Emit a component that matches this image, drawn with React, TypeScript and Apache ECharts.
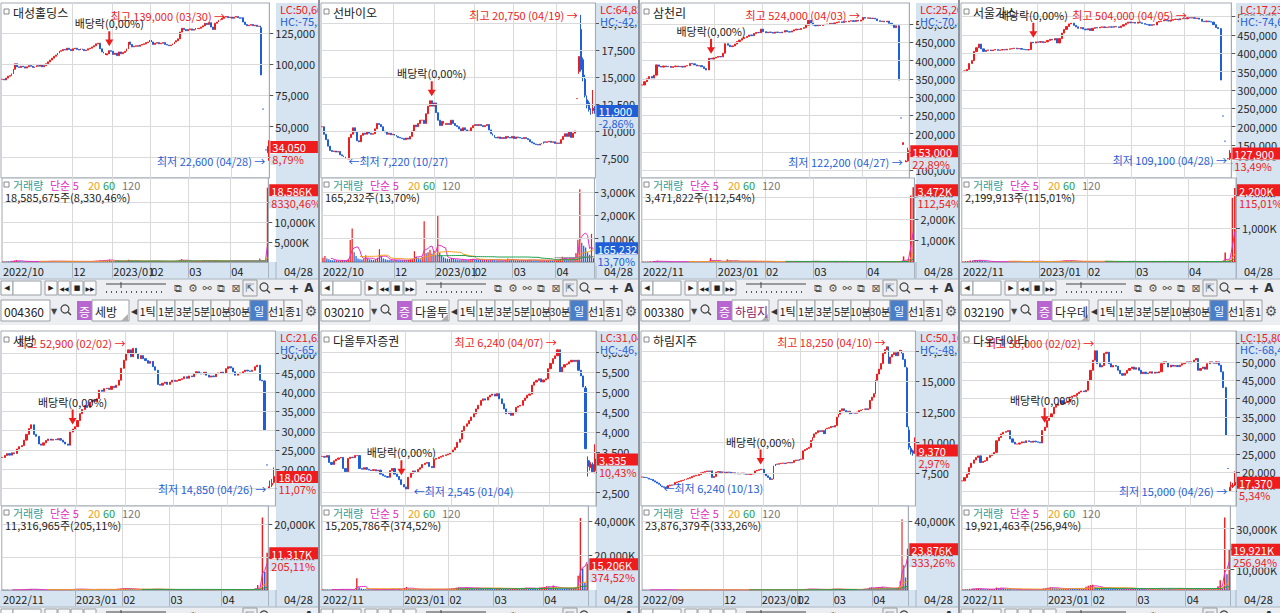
import React, { useEffect, useRef } from "react";
import * as echarts from "echarts";

const FONT = '"Noto Sans CJK KR", "Noto Sans", sans-serif';
const SYM = '"DejaVu Sans", sans-serif';
const UP = "#ee1c1c";
const DN = "#1f5ed6";
const BAND = "#d6e3f0";
const GRIDC = "#dadada";
const BORDER = "#a3abb5";
const DARK = "#262626";

const PW = 275;
const PL = 1;
const PT = 34;
const PH = 175;
const VT = 209;
const VH = 84;

// ---------------- DATA ----------------
// 1 대성홀딩스
const p1Close = [
  88000, 87500, 89000, 90500, 91000, 92500, 96000, 100500, 98000, 97500,
  98500, 98000, 97000, 98000, 99000, 98500, 97500, 98000, 99000, 98500,
  99500, 98000, 99000, 100500, 102000, 103500, 105000, 106500, 107500, 109000,
  110500, 111000, 112000, 111500, 113000, 112000, 111000, 112500, 113000, 112000,
  111500, 112500, 112000, 111000, 111500, 112500, 113000, 114000, 115000, 116500,
  117000, 112500, 110000, 109000, 107500, 108500, 111000, 110500, 108000, 109000,
  107000, 110000, 108500, 109500, 110500, 112500, 118000, 116000, 114000, 114500,
  115000, 114500, 115500, 116000, 116500, 117500, 118000, 119500, 118000, 116000,
  117000, 117500, 116500, 117000, 117500, 116000, 115500, 115000, 115500, 116500,
  118000, 119000, 120500, 126000, 129000, 128000, 127000, 128000, 128500, 127500,
  128000, 129000, 128500, 129000, 130000, 131000, 133000, 132000, 133500, 130000,
  128000, 133000, 134000, 135500, 136000, 137000, 138000, 138500, 137500, 138000,
  137000, 138000, 138500, 137500, 137000, 137500, 134000, 132000, 131000, 131500,
  132000, 131000, 131500, 130500, 130700,
];
const p1Tail = [
  [129500, 91500, 91500, 131000],
  [64050, 64050, 64050, 64050],
  [44850, 44850, 44850, 44850],
  [31300, 31300, 31300, 31300],
  [29000, 34050, 22600, 39000],
];
const p1VolHist = [
  160, 140, 210, 180, 150, 170, 320, 480, 260, 190,
  150, 130, 140, 160, 120, 130, 110, 140, 150, 120,
  130, 110, 140, 180, 210, 190, 230, 200, 170, 220,
  190, 210, 160, 150, 140, 170, 130, 150, 140, 120,
  130, 150, 140, 120, 110, 130, 160, 190, 240, 310,
  260, 420, 380, 350, 520, 480, 610, 390, 260, 220,
  180, 240, 200, 170, 190, 230, 560, 380, 250, 200,
  180, 160, 170, 190, 200, 180, 220, 240, 280, 230,
  190, 170, 180, 160, 150, 170, 160, 140, 150, 160,
  210, 250, 270, 560, 720, 380, 290, 240, 210, 200,
  190, 220, 210, 240, 260, 310, 380, 290, 260, 300,
  330, 280, 240, 260, 230, 250, 270, 240, 220, 230,
  210, 200, 220, 230, 190, 210, 260, 280, 240, 220,
  210, 200, 190, 210, 230,
];
const p1VolTail = [900, 160, 140, 223, 18586];
const p1Ticks = [25000, 50000, 75000, 100000, 125000];
const p1VolTicks = [5000, 10000, 15000];

// 2 선바이오
const p2Close = [
  10400, 9700, 9200, 8600, 8200, 8100, 8150, 8050, 8100, 7800,
  7700, 7600, 7500, 7400, 9400, 9700, 10300, 9900, 9100, 9000,
  9600, 9800, 9700, 9900, 9800, 9700, 9750, 10200, 10700, 10600,
  10400, 10000, 9900, 9700, 9800, 9650, 9700, 9600, 9500, 9400,
  9350, 9300, 9200, 9350, 9250, 9500, 10000, 10550, 10400, 10700,
  11000, 11000, 10700, 11600, 12300, 12800, 12300, 12600, 11700, 11000,
  10500, 10900, 10700, 10600, 10700, 10600, 11000, 10700, 10500, 10400,
  10200, 10000, 10300, 10100, 10000, 10000, 10300, 10500, 10600, 10500,
  10600, 10500, 10400, 10500, 10600, 10100, 9750, 9600, 9400, 9350,
  9450, 9300, 9400, 9300, 9500, 9400, 9350, 9500, 9300, 9450,
  9400, 9350, 9300, 9400, 9300, 9200, 9000, 8900, 8800, 8750,
  8700, 8800, 8850, 9000, 8950, 9000, 9050, 8950, 9000, 8850,
  8900, 8850, 9200, 9500, 9750, 9500, 9900, 9400, 9800, 10000,
];
const p2Tail = [
  [13000, 13000, 13000, 13000],
  [15500, 16900, 15300, 16900],
  [19400, 15700, 15500, 20750],
  [16600, 15000, 14600, 16800],
  [14800, 13300, 13100, 15200],
  [12900, 12400, 12100, 13300],
  [12600, 12000, 11800, 12800],
  [11900, 11700, 11500, 12100],
  [11800, 12250, 11600, 13800],
  [12100, 11900, 11600, 12300],
];
const p2VolHist = [
  180, 260, 150, 120, 90, 80, 70, 75, 60, 65,
  70, 60, 80, 120, 940, 1440, 420, 260, 150, 120,
  110, 140, 290, 160, 120, 100, 90, 110, 180, 550,
  260, 150, 120, 100, 90, 85, 80, 95, 90, 80,
  75, 70, 85, 80, 90, 110, 140, 460, 220, 180,
  150, 216, 1745, 380, 420, 520, 360, 480, 300, 1990,
  400, 280, 200, 160, 140, 130, 170, 150, 120, 110,
  100, 95, 110, 90, 85, 100, 120, 140, 110, 100,
  95, 90, 100, 85, 90, 80, 120, 110, 95, 80,
  85, 75, 70, 80, 90, 150, 110, 85, 95, 80,
  75, 70, 80, 75, 70, 85, 100, 90, 80, 75,
  70, 65, 75, 80, 70, 75, 85, 70, 65, 70,
  75, 80, 140, 220, 180, 160, 120, 180, 150, 170,
];
const p2VolTail = [390, 950, 3117, 820, 700, 620, 420, 310, 1206, 165];
const p2Ticks = [7500, 10000, 12500, 15000, 17500, 20000];
const p2VolTicks = [1000, 2000, 3000];

// 3 삼천리
const p3Close = [
  333000, 342000, 350000, 356000, 352000, 360000, 388000, 384000, 382000, 385000,
  383000, 384000, 381000, 383000, 385000, 383000, 384000, 382000, 385000, 386000,
  392000, 391000, 388000, 385000, 386000, 383000, 378000, 374000, 406000, 404000,
  407000, 409000, 411000, 410000, 420000, 446000, 442000, 438000, 440000, 445000,
  452000, 456000, 460000, 463000, 466000, 470000, 468000, 474000, 477000, 476000,
  486000, 479000, 476000, 478000, 477000, 475000, 478000, 477000, 476000, 478000,
  482000, 479000, 478000, 481000, 484000, 486000, 485000, 488000, 490000, 497000,
  510000, 503000, 497000, 495000, 497000, 496000, 498000, 499000, 500000, 502000,
  501000, 503000, 505000, 506000, 504000, 507000, 506000, 508000, 509000, 507000,
  510000, 508000, 511000, 518000, 516000, 517000, 515000, 516000, 514000, 509000,
  507000, 508000, 506000, 508000, 502000, 498000, 490000, 495000,
];
const p3Tail = [
  [495000, 346500, 346500, 497000],
  [242600, 242600, 242600, 242600],
  [169900, 174500, 169900, 176000],
  [122200, 124500, 122200, 127000],
  [125000, 153000, 123000, 161000],
];
const p3VolHist = [
  22, 18, 25, 30, 20, 35, 60, 28, 18, 15,
  14, 12, 15, 13, 16, 12, 11, 14, 13, 15,
  30, 22, 16, 14, 12, 18, 25, 40, 180, 60,
  30, 25, 22, 20, 45, 120, 70, 35, 30, 28,
  25, 30, 28, 26, 24, 22, 20, 25, 30, 40,
  22, 18, 16, 15, 14, 16, 15, 14, 13, 15,
  14, 16, 15, 14, 15, 16, 18, 15, 20, 30,
  45, 28, 20, 18, 16, 15, 14, 16, 15, 14,
  13, 15, 16, 14, 15, 13, 14, 16, 15, 14,
  16, 18, 20, 30, 25, 20, 18, 16, 15, 14,
  16, 15, 14, 18, 22, 25, 35, 28,
];
const p3VolTail = [260, 45, 130, 3085, 3472];
const p3Ticks = [100000, 150000, 200000, 250000, 300000, 350000, 400000, 450000, 500000];
const p3VolTicks = [1000, 2000, 3000];

// 4 서울가스
const p4Close = [
  350000, 352000, 356000, 372000, 380000, 405000, 415000, 425000, 412000, 405000,
  408000, 409000, 407000, 409000, 410000, 408000, 409000, 410000, 409000, 411000,
  412000, 413000, 414000, 412000, 413000, 411000, 410000, 409000, 410000, 430000,
  428000, 431000, 430000, 432000, 429000, 431000, 435000, 438000, 436000, 440000,
  428000, 440000, 455000, 465000, 473000, 480000, 482000, 476000, 472000, 468000,
  470000, 466000, 464000, 467000, 462000, 468000, 470000, 469000, 471000, 472000,
  470000, 471000, 472000, 471000, 473000, 472000, 470000, 474000, 478000, 482000,
  485000, 483000, 484000, 482000, 485000, 483000, 481000, 479000, 478000, 476000,
  478000, 477000, 485000, 487000, 488000, 490000, 489000, 488000, 490000, 492000,
  493000, 491000, 494000, 495000, 494000, 497000, 496000, 497000, 495000, 496000,
  493000, 487000, 486000, 488000, 486000, 485000, 478000, 470000, 467000,
];
const p4Tail = [
  [467000, 327000, 327000, 469000],
  [228900, 228900, 228900, 228900],
  [160300, 160300, 160300, 160300],
  [112200, 112700, 112200, 114000],
  [113500, 127900, 109100, 136000],
];
const p4VolHist = [
  18, 25, 30, 45, 40, 60, 50, 55, 35, 25,
  15, 12, 10, 9, 11, 10, 8, 9, 10, 12,
  14, 15, 18, 13, 12, 11, 10, 12, 14, 40,
  25, 15, 13, 14, 12, 11, 18, 22, 16, 20,
  25, 30, 45, 50, 40, 35, 22, 18, 16, 14,
  13, 12, 15, 14, 12, 11, 10, 12, 11, 10,
  9, 10, 11, 10, 9, 12, 11, 18, 20, 22,
  16, 14, 12, 11, 10, 12, 11, 14, 13, 12,
  11, 10, 15, 18, 14, 12, 11, 10, 12, 11,
  10, 12, 14, 13, 15, 18, 16, 13, 12, 11,
  12, 14, 13, 11, 12, 14, 18, 25, 30,
];
const p4VolTail = [280, 35, 60, 1913, 2200];
const p4Ticks = [100000, 150000, 200000, 250000, 300000, 350000, 400000, 450000, 500000];
const p4VolTicks = [1000, 2000];

// 5 세방
const p5Close = [
  23000, 23500, 24000, 23600, 24200, 24000, 25200, 25800, 26100, 27500,
  29000, 30500, 31500, 29000, 28500, 26500, 26200, 26800, 27400, 27800,
  27500, 27700, 27600, 27900, 27500, 27000, 26500, 26200, 29600, 30400,
  31000, 32600, 34400, 35500, 36500, 36000, 37400, 38000, 37600, 38300,
  40500, 40200, 40900, 41000, 40700, 41500, 41200, 41800, 43100, 46200,
  48300, 50000, 51000, 49200, 51400, 50000, 48700, 49500, 48700, 48200,
  47500, 48000, 46600, 45700, 42000, 41800, 42300, 42600, 42000, 42600,
  43100, 42800, 43000, 43300, 43500, 44000, 43600, 44200, 44000, 44800,
  45300, 45000, 44700, 45200, 44400, 43900, 44200, 44000, 44800, 45000,
  45200, 44900, 46100, 46600, 46300, 45300, 44400, 44800, 45000, 45300,
  45700, 45500, 45400, 45700, 46600, 47000, 43100, 42900,
];
const p5Tail = [
  [42900, 30050, 30050, 43000],
  [21050, 21050, 21050, 21050],
  [14850, 15400, 14850, 17000],
  [15800, 16260, 15300, 17400],
  [16500, 18060, 16200, 20400],
];
const p5VolHist = [
  60, 45, 40, 35, 50, 42, 80, 95, 110, 160,
  240, 320, 280, 150, 120, 90, 70, 60, 55, 50,
  45, 50, 42, 40, 48, 55, 60, 110, 220, 260,
  240, 300, 280, 260, 220, 180, 160, 150, 140, 170,
  230, 190, 150, 140, 120, 160, 140, 150, 240, 380,
  420, 520, 600, 380, 340, 260, 220, 180, 160, 150,
  140, 130, 230, 190, 320, 210, 150, 120, 100, 95,
  90, 85, 80, 95, 100, 90, 85, 80, 75, 90,
  95, 100, 90, 85, 80, 75, 70, 80, 85, 90,
  85, 110, 130, 120, 100, 90, 85, 80, 75, 80,
  85, 90, 80, 110, 130, 140, 260, 420,
];
const p5VolTail = [1500, 330, 22000, 5517, 11317];
const p5Ticks = [15000, 20000, 25000, 30000, 35000, 40000, 45000, 50000];
const p5VolTicks = [10000, 20000];

// 6 다올투자증권
const p6Close = [
  3400, 3380, 3420, 3250, 3200, 3290, 3330, 3360, 3375, 3100,
  3020, 3350, 3380, 3370, 3420, 3420, 3100, 3080, 3120, 3080,
  3060, 3050, 3070, 3040, 3060, 2960, 2920, 2900, 2880, 3050,
  3100, 2960, 2900, 2820, 2700, 2640, 2590, 2880, 2980, 3040,
  3020, 3080, 3120, 3200, 3230, 3250, 3150, 3120, 3330, 3350,
  3380, 3400, 3420, 3440, 3460, 3500, 3560, 3620, 3750, 3830,
  4040, 4150, 4210, 4290, 4380, 4460, 4580, 4670, 4790, 4830,
  4800, 4875, 4920, 4950, 4900, 4960, 4830, 4710, 4580, 4460,
  4500, 4420, 4480, 4620, 4650, 4670, 4790, 4850, 4920, 4950,
  5170, 5250, 5290, 5330, 5250, 5300, 5330, 5580, 5710, 5830,
  5900, 6050, 5500, 5620, 5680, 5700, 5750, 5790, 5760, 5790,
  5540, 5400, 5125,
];
const p6Tail = [
  [5100, 3590, 3590, 5150],
  [3300, 3150, 2900, 3400],
  [3120, 3250, 3050, 3300],
  [3200, 3020, 3000, 3250],
  [3050, 3335, 2980, 3700],
];
const p6VolHist = [
  420, 350, 300, 280, 260, 300, 320, 280, 520, 380,
  300, 350, 280, 260, 400, 6800, 1600, 900, 600, 450,
  380, 320, 300, 280, 260, 300, 280, 260, 250, 480,
  520, 460, 380, 420, 600, 720, 1100, 1800, 900, 650,
  520, 460, 420, 380, 400, 360, 340, 380, 420, 460,
  400, 380, 360, 420, 480, 560, 700, 900, 1100, 1300,
  1600, 1400, 1200, 1300, 1500, 1200, 1100, 1000, 1300, 1200,
  900, 800, 1100, 1000, 900, 800, 760, 900, 1100, 800,
  700, 650, 600, 680, 720, 800, 900, 1000, 1100, 900,
  1300, 1200, 1000, 900, 850, 800, 1400, 1600, 1800, 2200,
  2000, 1500, 2600, 1400, 1000, 900, 850, 800, 760, 700,
  900, 1200, 1600,
];
const p6VolTail = [8200, 41700, 12500, 4060, 15206];
const p6Ticks = [2500, 3000, 3500, 4000, 4500, 5000, 5500, 6000];
const p6VolTicks = [20000, 40000];

// 7 하림지주
const p7Close = [
  7150, 7120,
  7100, 7050, 6980, 6950, 6840, 6750, 6650, 6560, 6420, 6350,
  6300, 6250, 6450, 6500, 6480, 6520, 6700, 6750, 6800, 6850,
  6890, 6950, 7000, 7050, 7100, 7200, 7250, 7300, 7280, 7350,
  7500, 7550, 7600, 7650, 7600, 7660, 7110, 7200, 7550, 7600,
  7520, 7580, 7550, 7500, 7560, 7540, 7450, 7500, 7420, 7480,
  7400, 7450, 7480, 7400, 7380, 7420, 7350, 7400, 7420, 7650,
  7700, 7750, 7800, 7780, 7400, 7250, 7110, 6950, 7000, 8070,
  8210, 8200, 8250, 8280, 8300, 8250, 8320, 8350, 8300, 8350,
  8500, 8550, 8520, 8600, 8620, 9300, 9400, 9500, 9590, 10140,
  10400, 10690, 10800, 10950, 10880, 10960, 10700, 11100, 11150, 11200,
  11300, 11250, 11375, 12060, 12300, 12600, 12750, 12600, 12500, 12550,
  12340, 12400, 12450, 12380, 12480, 12600, 12650, 12700, 12750, 12680,
  12750, 13440, 13700, 13990, 15090, 15600, 16000, 16460, 17290, 17600,
  17840, 16460, 17000, 17200, 17350, 17100, 17450, 17560, 17300, 16800,
  16190,
];
const p7Tail = [
  [16100, 11270, 11270, 16190],
  [11000, 9600, 9400, 11300],
  [9500, 9200, 9000, 9700],
  [9300, 9100, 8900, 9400],
  [9150, 9370, 9050, 10400],
];
const p7VolHist = [
  110, 100,
  120, 90, 80, 85, 95, 110, 100, 90, 140, 160,
  150, 180, 130, 110, 90, 85, 100, 95, 90, 85,
  80, 90, 95, 100, 110, 120, 100, 130, 90, 85,
  110, 100, 95, 90, 85, 80, 150, 120, 110, 95,
  90, 85, 80, 75, 80, 85, 90, 80, 75, 70,
  75, 80, 70, 65, 70, 75, 80, 70, 65, 140,
  160, 180, 120, 110, 150, 130, 140, 120, 100, 380,
  260, 180, 150, 140, 120, 110, 130, 120, 110, 100,
  180, 160, 150, 170, 160, 420, 380, 320, 300, 520,
  680, 720, 480, 400, 360, 520, 380, 300, 280, 260,
  300, 280, 320, 600, 720, 650, 480, 420, 380, 350,
  320, 300, 280, 300, 280, 320, 300, 280, 300, 290,
  320, 680, 760, 900, 1400, 1600, 1300, 1100, 1500, 1800,
  1600, 1900, 1400, 1200, 1000, 900, 1100, 1000, 900, 1200,
  1600,
];
const p7VolTail = [5200, 41000, 14500, 7165, 23876];
const p7Ticks = [7500, 10000, 12500, 15000, 17500];
const p7VolTicks = [20000, 40000];

// 8 다우데이타
const p8Close = [
  17730, 18600, 19550, 21360, 22500, 23400, 24090, 24500, 22700, 23000,
  23200, 24100, 24600, 25000, 25450, 28600, 29500, 30450, 30900, 31100,
  31360, 29100, 28200, 27700, 27700, 28000, 28300, 28100, 28600, 28400,
  28200, 28500, 28300, 28200, 28000, 31360, 32270, 34100, 35000, 35900,
  37700, 38200, 38600, 39500, 38600, 39000, 39200, 40450, 40700, 40900,
  41400, 41800, 42100, 41900, 42300, 45000, 47700, 50450, 53000, 49500,
  48600, 49000, 52300, 52600, 49500, 48600, 49000, 48800, 47700, 46800,
  46360, 46900, 47700, 48200, 48600, 48000, 48400, 47700, 46800, 47200,
  46800, 47000, 47300, 46900, 47200, 47000, 47300, 49500, 50000, 49800,
  48600, 49100, 48800, 49000, 48700, 49100, 49500, 49800, 50000, 49700,
  50000, 50500, 50900, 47700, 48200, 48600, 48000, 49500, 50000, 49800,
  49600, 50000, 49100, 47300, 43000,
];
const p8Tail = [
  [43000, 30100, 30100, 43200],
  [21070, 21070, 21070, 21070],
  [15000, 16000, 15000, 17500],
  [16200, 16490, 15800, 17200],
  [16600, 17370, 16300, 20300],
];
const p8VolHist = [
  300, 420, 380, 560, 620, 580, 700, 900, 500, 380,
  350, 420, 460, 500, 480, 1200, 900, 1100, 800, 700,
  600, 450, 380, 320, 280, 260, 240, 220, 200, 210,
  200, 190, 220, 210, 200, 520, 760, 900, 1100, 1300,
  1200, 900, 800, 700, 600, 650, 700, 800, 760, 700,
  650, 600, 620, 580, 700, 1600, 2100, 2400, 2600, 1500,
  1200, 1000, 1400, 1200, 900, 800, 700, 650, 600, 580,
  560, 520, 500, 520, 480, 540, 900, 600, 520, 480,
  460, 440, 420, 400, 420, 440, 460, 700, 800, 600,
  520, 480, 460, 440, 420, 400, 480, 520, 560, 500,
  480, 620, 700, 560, 520, 480, 440, 460, 500, 480,
  460, 520, 700, 900, 1800,
];
const p8VolTail = [4800, 900, 35500, 7753, 19921];
const p8Ticks = [15000, 20000, 25000, 30000, 35000, 40000, 45000, 50000, 55000];
const p8VolTicks = [10000, 20000, 30000];

// ---------------- PANEL CONFIG ----------------
type Cfg = {
  title: string; code?: string; codeName?: string; nameColor?: string;
  close: number[]; tail: number[][]; volHist: number[]; volTail: number[];
  yMin: number; yMax: number; yTicks: number[]; vMax: number; vTicks: number[];
  hiDate: string; hiVal: number; hiText: string;
  loDate: string; loVal: number; loText: string; loPos: string;
  lc: string; hc: string; tag: string; pct: string;
  volTag: string; volPct: string; volLine: string;
};

const PANELS: Cfg[] = [
  { title: "대성홀딩스", close: p1Close, tail: p1Tail, volHist: p1VolHist, volTail: p1VolTail,
    yMin: 8700, yMax: 149300, yTicks: p1Ticks, vMax: 21000, vTicks: p1VolTicks,
    hiDate: "03/30", hiVal: 139000, hiText: "최고 139,000 (03/30) →",
    loDate: "04/28", loVal: 22600, loText: "최저 22,600 (04/28) →", loPos: "left",
    lc: "LC:50,66", hc: "HC:-75,5", tag: "34,050", pct: "8,79%",
    volTag: "18,586K", volPct: "8330,46%", volLine: "18,585,675주(8,330,46%)" },
  { title: "선바이오", close: p2Close, tail: p2Tail, volHist: p2VolHist, volTail: p2VolTail,
    yMin: 5650, yMax: 21850, yTicks: p2Ticks, vMax: 3600, vTicks: p2VolTicks,
    hiDate: "04/19", hiVal: 20750, hiText: "최고 20,750 (04/19) →",
    loDate: "10/27", loVal: 7220, loText: "←최저 7,220 (10/27)", loPos: "right",
    lc: "LC:64,82", hc: "HC:-42,6", tag: "11,900", pct: "-2,86%",
    volTag: "165,232", volPct: "13,70%", volLine: "165,232주(13,70%)" },
  { title: "삼천리", close: p3Close, tail: p3Tail, volHist: p3VolHist, volTail: p3VolTail,
    yMin: 78100, yMax: 557600, yTicks: p3Ticks, vMax: 3900, vTicks: p3VolTicks,
    hiDate: "04/03", hiVal: 524000, hiText: "최고 524,000 (04/03) →",
    loDate: "04/27", loVal: 122200, loText: "최저 122,200 (04/27) →", loPos: "left",
    lc: "LC:25,20", hc: "HC:-70,8", tag: "153,000", pct: "22,89%",
    volTag: "3,472K", volPct: "112,54%", volLine: "3,471,822주(112,54%)" },
  { title: "서울가스", close: p4Close, tail: p4Tail, volHist: p4VolHist, volTail: p4VolTail,
    yMin: 60000, yMax: 537000, yTicks: p4Ticks, vMax: 2500, vTicks: p4VolTicks,
    hiDate: "04/05", hiVal: 504000, hiText: "최고 504,000 (04/05) →",
    loDate: "04/28", loVal: 109100, loText: "최저 109,100 (04/28) →", loPos: "left",
    lc: "LC:17,23", hc: "HC:-74,6", tag: "127,900", pct: "13,49%",
    volTag: "2,200K", volPct: "115,01%", volLine: "2,199,913주(115,01%)" },
  { title: "세방", code: "004360", codeName: "세방", nameColor: "#222",
    close: p5Close, tail: p5Tail, volHist: p5VolHist, volTail: p5VolTail,
    yMin: 10365, yMax: 55900, yTicks: p5Ticks, vMax: 25500, vTicks: p5VolTicks,
    hiDate: "02/02", hiVal: 52900, hiText: "최고 52,900 (02/02) →",
    loDate: "04/26", loVal: 14850, loText: "최저 14,850 (04/26) →", loPos: "left",
    lc: "LC:21,62", hc: "HC:-65,8", tag: "18,060", pct: "11,07%",
    volTag: "11,317K", volPct: "205,11%", volLine: "11,316,965주(205,11%)" },
  { title: "다올투자증권", code: "030210", codeName: "다올투", nameColor: "#222",
    close: p6Close, tail: p6Tail, volHist: p6VolHist, volTail: p6VolTail,
    yMin: 2167, yMax: 6517, yTicks: p6Ticks, vMax: 48600, vTicks: p6VolTicks,
    hiDate: "04/07", hiVal: 6240, hiText: "최고 6,240 (04/07) →",
    loDate: "01/04", loVal: 2545, loText: "←최저 2,545 (01/04)", loPos: "right",
    lc: "LC:31,04", hc: "HC:-46,5", tag: "3,335", pct: "10,43%",
    volTag: "15,206K", volPct: "374,52%", volLine: "15,205,786주(374,52%)" },
  { title: "하림지주", code: "003380", codeName: "하림지", nameColor: "#8a1a6a",
    close: p7Close, tail: p7Tail, volHist: p7VolHist, volTail: p7VolTail,
    yMin: 4775, yMax: 19130, yTicks: p7Ticks, vMax: 48600, vTicks: p7VolTicks,
    hiDate: "04/10", hiVal: 18250, hiText: "최고 18,250 (04/10) →",
    loDate: "10/13", loVal: 6240, loText: "←최저 6,240 (10/13)", loPos: "right",
    lc: "LC:50,16", hc: "HC:-48,6", tag: "9,370", pct: "2,97%",
    volTag: "23,876K", volPct: "333,26%", volLine: "23,876,379주(333,26%)" },
  { title: "다우데이타", code: "032190", codeName: "다우데", nameColor: "#222",
    close: p8Close, tail: p8Tail, volHist: p8VolHist, volTail: p8VolTail,
    yMin: 10910, yMax: 58360, yTicks: p8Ticks, vMax: 41100, vTicks: p8VolTicks,
    hiDate: "02/02", hiVal: 55000, hiText: "최고 55,000 (02/02) →",
    loDate: "04/26", loVal: 15000, loText: "최저 15,000 (04/26) →", loPos: "left",
    lc: "LC:15,80", hc: "HC:-68,4", tag: "17,370", pct: "5,34%",
    volTag: "19,921K", volPct: "256,94%", volLine: "19,921,463주(256,94%)" },
];

// ---------------- HELPERS ----------------
const HOLIDAYS = ["2022-10-03", "2022-10-10", "2022-12-30", "2023-01-23", "2023-01-24", "2023-03-01"];
function tradingDays(n: number): string[] {
  const out: string[] = [];
  const d = new Date(Date.UTC(2023, 3, 28));
  while (out.length < n) {
    const dow = d.getUTCDay();
    const iso = d.toISOString().slice(0, 10);
    if (dow !== 0 && dow !== 6 && HOLIDAYS.indexOf(iso) < 0) out.unshift(iso);
    d.setUTCDate(d.getUTCDate() - 1);
  }
  return out;
}
function monthMarks(dates: string[]): Record<number, string> {
  const px = PW / dates.length;
  const res: Record<number, string> = {};
  let lastX = 0;
  let need = 44;
  dates.forEach((d, i) => {
    const y = d.slice(0, 4), m = d.slice(5, 7);
    if (i === 0) { res[0] = `${y}/${m}`; return; }
    if (m !== dates[i - 1].slice(5, 7)) {
      const t = m === "01" ? `${y}/${m}` : m;
      const x = i * px;
      if (x - lastX >= need) { res[i] = t; lastX = x; need = t.length * 5 + 2; }
    }
  });
  return res;
}
const fmt = (v: number) => v.toLocaleString("en-US");

function txt(x: number, y: number, text: string, o: any = {}) {
  const style: any = {
    text, fill: o.color || DARK,
    font: `${o.weight || "normal"} ${o.size || 11}px ${o.family || FONT}`,
    align: o.align || "left", verticalAlign: "middle",
    textAlign: o.align || "left", textVerticalAlign: "middle",
  };
  if (o.bg) { style.backgroundColor = o.bg; style.padding = o.pad || [0, 1]; }
  return { type: "text", x, y, z: o.z || 20, silent: true, style };
}
function rect(x: number, y: number, w: number, h: number, fill: string, stroke?: string | null, z = -5) {
  return { type: "rect", silent: true, z, shape: { x, y, width: w, height: h },
    style: { fill, stroke: stroke || undefined, lineWidth: stroke ? 1 : 0 } };
}
function line(x1: number, y1: number, x2: number, y2: number, stroke: string, w = 1, z = 6) {
  return { type: "line", silent: true, z, shape: { x1, y1, x2, y2 }, style: { stroke, lineWidth: w } };
}

function toolbarEls(y0: number) {
  const els: any[] = [rect(0, y0, 320, 22, "#eceef1", null, -6)];
  const b = (x: number, w: number, label: string, fs = 7) => {
    els.push(rect(x, y0 + 2, w, 14, "#fbfbfb", "#9aa0a6", 5));
    els.push(txt(x + w / 2, y0 + 9, label, { size: fs, align: "center", family: SYM, color: "#222" }));
  };
  b(1, 12, "◀");
  els.push(rect(13, y0 + 2, 28, 14, "#ffffff", "#9aa0a6", 5));
  b(45, 12, "▶"); b(58, 12, "◀◀", 6); b(71, 12, "■", 7); b(84, 12, "▶▶", 6);
  els.push(line(106, y0 + 5, 166, y0 + 5, "#444"));
  els.push(line(121, y0 + 3, 121, y0 + 9, "#444"));
  for (let k = 0; k < 12; k++) els.push(rect(106 + k * 5, y0 + 12, 1, 2, "#555", null, 5));
  const icons: [string, number][] = [["⧉", 178], ["⚙", 193], ["⚯", 207], ["⧉", 221], ["⊠", 236], ["⇱", 250]];
  icons.forEach(([s, x]) => els.push(txt(x, y0 + 9, s, { size: 11, align: "center", family: SYM, color: "#555" })));
  els.push(rect(243, y0 + 1, 14, 16, "rgba(0,0,0,0)", "#999", 5));
  els.push({ type: "circle", silent: true, z: 6, shape: { cx: 264, cy: y0 + 8, r: 4 }, style: { fill: "none", stroke: "#444", lineWidth: 1.2 } });
  els.push(line(267, y0 + 11, 270, y0 + 14, "#444", 1.5));
  els.push(txt(279, y0 + 9, "−", { size: 13, align: "center", family: SYM, weight: "bold", color: "#333" }));
  els.push(txt(294, y0 + 9, "+", { size: 13, align: "center", family: SYM, weight: "bold", color: "#333" }));
  els.push(txt(309, y0 + 9, "A", { size: 12, align: "center", family: SYM, weight: "bold", color: "#333" }));
  return els;
}

function codeRowEls(code: string, name: string, nameColor: string) {
  const els: any[] = [rect(0, 0, 320, 28, "#eceef1", null, -6)];
  els.push(rect(1, 3, 49, 21, "#fff", "#9aa0a6", 5));
  els.push(txt(4, 14, code, { size: 12, color: "#222" }));
  els.push(txt(54, 14, "▼", { size: 8, family: SYM, color: "#444", align: "center" }));
  els.push({ type: "circle", silent: true, z: 6, shape: { cx: 65, cy: 12, r: 4 }, style: { fill: "none", stroke: "#444", lineWidth: 1.2 } });
  els.push(line(68, 15, 71, 18, "#444", 1.5));
  els.push(rect(77, 4, 15, 19, "#b866cf", null, 5));
  els.push(txt(84.5, 14, "증", { size: 12, color: "#fff", align: "center" }));
  els.push(rect(92, 3, 37, 21, "#fff", "#9aa0a6", 5));
  els.push(txt(95, 14, name, { size: 12, color: nameColor }));
  els.push({ type: "polygon", silent: true, z: 6, shape: { points: [[128, 17], [128, 24], [121, 24]] }, style: { fill: "#b0b0b0" } });
  els.push(txt(134, 14, "◀", { size: 8, family: SYM, align: "center", color: "#333" }));
  const btns: [string, number, number][] = [["1틱", 138, 19], ["1분", 157, 18], ["3분", 175, 18], ["5분", 193, 18], ["10분", 211, 19], ["30분", 230, 20], ["일", 250, 18], ["선1", 268, 16], ["종1", 284, 18]];
  btns.forEach(([t, x, w]) => {
    const sel = t === "일";
    els.push(rect(x, 3, w, 21, sel ? "#4a7ec8" : "#f7f7f7", "#9aa0a6", 5));
    els.push(txt(x + w / 2, 14, t, { size: t.length > 2 ? 10 : 11, align: "center", color: sel ? "#fff" : "#222" }));
  });
  els.push(txt(311, 14, "⚙", { size: 14, family: SYM, align: "center", color: "#555" }));
  return els;
}

function buildOption(c: Cfg, bottom: boolean) {
  const ohlc = c.close
    .map((v, i) => { const o = i === 0 ? v : c.close[i - 1]; return [o, v, Math.min(o, v), Math.max(o, v)]; })
    .concat(c.tail);
  const n = ohlc.length;
  const dates = tradingDays(n);
  const marks = monthMarks(dates);
  const isLine = (i: number) => i > 0 && marks[i] !== undefined;
  const vol = c.volHist.concat(c.volTail);
  const volData = vol.map((v, i) => ({ value: v, itemStyle: { color: i > 0 && v < vol[i - 1] ? DN : UP } }));
  const ma = (k: number) => vol.map((_, i) => (i < k - 1 ? "-" : Math.round(vol.slice(i - k + 1, i + 1).reduce((a, b) => a + b, 0) / k)));
  const idxOf = (md: string) => { const key = md.replace("/", "-"); const j = dates.findIndex((d) => d.slice(5) === key); return j < 0 ? 0 : j; };
  const hiIdx = idxOf(c.hiDate), loIdx = idxOf(c.loDate), divIdx = idxOf("12/28");
  const divTop = ohlc[divIdx][3];
  const last = ohlc[n - 1];
  const pColor = last[1] >= ohlc[n - 2][1] ? UP : DN;
  const vColor = vol[n - 1] >= vol[n - 2] ? UP : DN;
  const vTagY = Math.min(Math.max(vol[n - 1], c.vMax * 0.17), c.vMax * 0.86);

  const tagLabel = (a: string, b: string, col: string) => ({
    show: true, position: "end", distance: 1, padding: [13, 0, 0, 0], opacity: 1,
    formatter: `{a|${a}}\n{b|${b}}`,
    rich: {
      a: { backgroundColor: col, color: "#fff", fontSize: 11, fontFamily: FONT, lineHeight: 13, padding: [1, 12, 0, 2], opacity: 1 },
      b: { color: col, fontSize: 11, fontFamily: FONT, lineHeight: 12, backgroundColor: BAND, padding: [0, 8, 0, 2], opacity: 1 },
    },
  });
  const mp = (coord: number[], text: string, pos: string, color: string, dist: number) => ({
    coord, symbol: "circle", symbolSize: 2, itemStyle: { color: "rgba(0,0,0,0)" },
    label: { show: true, position: pos, distance: dist, formatter: text, color, fontSize: 11, fontFamily: FONT },
  });
  const gridLines = (ticks: number[]) => ({
    silent: true, symbol: "none", animation: false, label: { show: false },
    lineStyle: { color: GRIDC, type: "solid", width: 1 },
    data: ticks.map((v) => ({ yAxis: v })),
  });
  const hiddenLine = { color: "rgba(0,0,0,0)", width: 0, opacity: 1 };

  const g: any[] = [];
  g.push(rect(0, 26, 320, 10, "#ffffff", null, -7));
  g.push(rect(PL + PW, PT, 46, VT + VH + 17 - PT, BAND, null, -5));
  g.push(rect(0, VT + VH, PL + PW, 17, BAND, null, -5));
  g.push(line(PL + PW, VT + VH, PL + PW, VT + VH + 17, "#aab4c0", 1, 1));
  g.push(line(0, VT + VH + 17, 320, VT + VH + 17, "#aab4c0", 1, 1));
  // title
  g.push(rect(4, 40, 5, 5, "#ffffff", "#888", 20));
  g.push(txt(13, 43, c.title, { size: 12, color: "#222" }));
  // LC / HC
  g.push(txt(279, 40, c.lc, { color: UP, bg: BAND }));
  g.push(txt(279, 52, c.hc, { color: DN, bg: BAND }));
  // volume legend
  g.push(rect(4, 213, 5, 5, "#ffffff", "#888", 20));
  g.push(txt(13, 216, "거래량", { color: "#2e9c9c" }));
  g.push(txt(50, 216, "단순 5", { color: "#e030c0" }));
  g.push(txt(88, 216, "20", { color: "#f0a020" }));
  g.push(txt(103, 216, "60", { color: "#1f9e4a" }));
  g.push(txt(122, 216, "120", { color: "#777" }));
  g.push(txt(5, 228, c.volLine, { color: "#222" }));
  g.push(txt(284, VT + VH + 9, "04/28", { color: "#222" }));
  toolbarEls(310).forEach((e) => g.push(e));
  if (bottom && c.code) codeRowEls(c.code, c.codeName || "", c.nameColor || "#222").forEach((e) => g.push(e));

  return {
    animation: false,
    textStyle: { fontFamily: FONT },
    grid: [
      { left: PL, top: PT, width: PW, height: PH, show: true, backgroundColor: "#fff", borderColor: BORDER, borderWidth: 1 },
      { left: PL, top: VT, width: PW, height: VH, show: true, backgroundColor: "#fff", borderColor: BORDER, borderWidth: 1 },
    ],
    xAxis: [
      { type: "category", gridIndex: 0, data: dates, boundaryGap: true,
        axisLine: { show: false }, axisTick: { show: false }, axisLabel: { show: false },
        splitLine: { show: true, interval: (i: number) => isLine(i), lineStyle: { color: GRIDC } } },
      { type: "category", gridIndex: 1, data: dates, boundaryGap: true,
        axisLine: { show: true, lineStyle: { color: BORDER } },
        axisTick: { show: true, interval: (i: number) => isLine(i), length: 16, lineStyle: { color: "#aab4c0" } },
        axisLabel: { show: true, interval: (i: number) => marks[i] !== undefined, formatter: (_v: string, i: number) => marks[i] || "",
          align: "left", margin: 3, fontSize: 11, fontFamily: FONT, color: "#222" },
        splitLine: { show: true, interval: (i: number) => isLine(i), lineStyle: { color: GRIDC } } },
    ],
    yAxis: [
      { type: "value", gridIndex: 0, position: "right", min: c.yMin, max: c.yMax,
        axisLine: { show: true, lineStyle: { color: BORDER } },
        axisTick: { show: true, length: 4, customValues: c.yTicks, lineStyle: { color: "#555" } },
        axisLabel: { customValues: c.yTicks, formatter: fmt, fontSize: 11, fontFamily: FONT, color: "#2a2a2a", margin: 6 },
        splitLine: { show: false } },
      { type: "value", gridIndex: 1, position: "right", min: 0, max: c.vMax,
        axisLine: { show: true, lineStyle: { color: BORDER } },
        axisTick: { show: true, length: 4, customValues: c.vTicks, lineStyle: { color: "#555" } },
        axisLabel: { customValues: c.vTicks, formatter: (v: number) => fmt(v) + "K", fontSize: 11, fontFamily: FONT, color: "#2a2a2a", margin: 6 },
        splitLine: { show: false } },
    ],
    series: [
      { type: "line", xAxisIndex: 0, yAxisIndex: 0, data: [], z: 1, silent: true, markLine: gridLines(c.yTicks) },
      { type: "candlestick", xAxisIndex: 0, yAxisIndex: 0, data: ohlc, barWidth: "72%", barMaxWidth: 3, z: 3,
        itemStyle: { color: UP, color0: DN, borderColor: UP, borderColor0: DN, borderWidth: 1 },
        markPoint: { silent: true, animation: false, data: [
          mp([hiIdx, c.hiVal], c.hiText, "left", UP, 2),
          mp([loIdx, c.loVal], c.loText, c.loPos, DN, 2),
          { coord: [divIdx, divTop], symbol: "path://M3,0 L5,0 L5,9 L8,9 L4,16 L0,9 L3,9 Z", symbolSize: [8, 15],
            symbolOffset: [0, -12], itemStyle: { color: UP }, label: { show: false } },
          mp([divIdx, divTop], "배당락(0,00%)", "top", "#222", 21),
        ] },
        markLine: { silent: true, symbol: "none", animation: false, lineStyle: hiddenLine, z: 10,
          data: [{ yAxis: last[1], lineStyle: hiddenLine, label: tagLabel(c.tag, c.pct, pColor) }] } },
      { type: "line", xAxisIndex: 1, yAxisIndex: 1, data: [], z: 1, silent: true, markLine: gridLines(c.vTicks) },
      { type: "bar", xAxisIndex: 1, yAxisIndex: 1, data: volData, barWidth: "62%", barMaxWidth: 3, z: 3,
        markLine: { silent: true, symbol: "none", animation: false, lineStyle: hiddenLine, z: 10,
          data: [{ yAxis: vTagY, lineStyle: hiddenLine, label: tagLabel(c.volTag, c.volPct, vColor) }] } },
      { type: "line", xAxisIndex: 1, yAxisIndex: 1, data: ma(5), showSymbol: false, symbol: "none", z: 4, lineStyle: { color: "#e030c0", width: 1 } },
      { type: "line", xAxisIndex: 1, yAxisIndex: 1, data: ma(20), showSymbol: false, symbol: "none", z: 4, lineStyle: { color: "#f0a020", width: 1 } },
      { type: "line", xAxisIndex: 1, yAxisIndex: 1, data: ma(60), showSymbol: false, symbol: "none", z: 4, lineStyle: { color: "#1f9e4a", width: 1 } },
      { type: "line", xAxisIndex: 1, yAxisIndex: 1, data: ma(120), showSymbol: false, symbol: "none", z: 4, lineStyle: { color: "#8a8a8a", width: 1 } },
    ],
    graphic: { elements: g },
  };
}

function Panel({ cfg, idx }: { cfg: Cfg; idx: number }) {
  const ref = useRef<HTMLDivElement>(null);
  const row = Math.floor(idx / 4);
  const col = idx % 4;
  const w = col === 3 ? 320 : 318;
  useEffect(() => {
    const chart = echarts.init(ref.current as HTMLDivElement, null, { renderer: "svg", width: w, height: 330 });
    chart.setOption(buildOption(cfg, row === 1) as any);
    return () => chart.dispose();
  }, []);
  return (
    <div style={{ position: "absolute", left: col * 320, top: row === 0 ? -31 : 297, width: w, height: row === 0 ? 328 : 316, overflow: "hidden", background: "#fff" }}>
      <div ref={ref} style={{ width: w, height: 330 }} />
    </div>
  );
}

export default function App() {
  return (
    <div style={{ position: "fixed", left: 0, top: 0, width: 1280, height: 613, overflow: "hidden", background: "#8e959e" }}>
      {PANELS.map((p, k) => <Panel key={k} cfg={p} idx={k} />)}
    </div>
  );
}
